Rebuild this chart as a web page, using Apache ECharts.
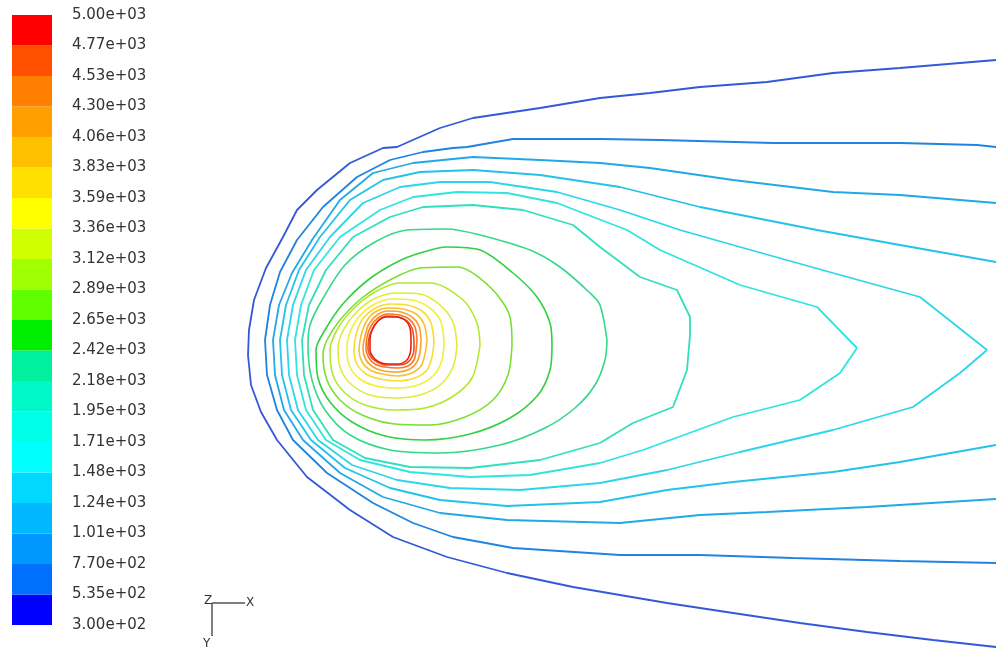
<!DOCTYPE html>
<html>
<head>
<meta charset="utf-8">
<script src="https://cdn.jsdelivr.net/npm/echarts@6/dist/echarts.min.js"></script>
<style>html,body{margin:0;padding:0;background:#fff;}#chart{width:996px;height:653px;}</style>
</head>
<body>
<div id="chart"></div>
<script>
// Colour-bar bands, bottom (lowest) to top (highest)
const bandColors = ['#0000ff','#0070ff','#0098ff','#00b8ff','#00d8ff','#00ffff','#00ffe8','#00f8c8','#00f0a0','#00ee00',
                    '#60ff00','#a0ff00','#d0ff00','#ffff00','#ffe000','#ffc000','#ffa000','#ff8000','#ff5000','#ff0000'];
// Colour-bar tick labels, bottom to top
const tickLabels = ['3.00e+02','5.35e+02','7.70e+02','1.01e+03','1.24e+03','1.48e+03','1.71e+03','1.95e+03','2.18e+03','2.42e+03',
                    '2.65e+03','2.89e+03','3.12e+03','3.36e+03','3.59e+03','3.83e+03','4.06e+03','4.30e+03','4.53e+03','4.77e+03','5.00e+03'];
// Contour levels (outer to inner)
const contourLevels = [535,770,1010,1240,1480,1710,1950,2180,2420,2650,2890,3120,3360,3590,3830,4060,4300,4530,4770];

// Contour traces [x, y] in domain units
const cA = [[756,290],[660,282],[593,277],[527,268],[460,263],[410,257],[360,252],[300,242],[233,232],[200,222],[157,203],[143,202],[110,187],[77,160],[57,140],[43,113],[26,82],[14,50],[9,20],[8,-5],[11,-35],[21,-62],[37,-90],[67,-127],[110,-160],[153,-187],[207,-207],[267,-223],[333,-237],[380,-245],[427,-253],[493,-263],[560,-273],[627,-282],[693,-290],[756,-297]];
const cB = [[756,203],[737,205],[660,207],[533,207],[420,210],[360,211],[273,211],[227,203],[213,202],[183,198],[150,190],[117,173],[83,143],[57,110],[40,78],[30,45],[25,10],[27,-25],[37,-60],[53,-90],[87,-123],[133,-153],[173,-173],[213,-187],[273,-198],[380,-205],[460,-205],[553,-208],[660,-211],[756,-213]];
const cC = [[756,147],[660,155],[593,158],[493,170],[410,182],[360,187],[300,190],[233,193],[173,187],[133,177],[100,150],[72,110],[52,77],[39,45],[33,10],[35,-25],[44,-60],[63,-90],[100,-123],[143,-147],[200,-163],[267,-170],[380,-173],[460,-165],[527,-162],[627,-157],[756,-149]];
const cD = [[756,88],[660,105],[577,120],[460,143],[380,163],[300,175],[233,180],[180,178],[143,170],[110,150],[80,113],[59,80],[46,45],[40,10],[42,-25],[51,-60],[71,-90],[105,-118],[150,-138],[200,-150],[267,-156],[360,-152],[427,-140],[493,-132],[593,-122],[660,-112],[756,-95]];
const cE = [[747,0],[680,53],[593,77],[500,103],[440,120],[380,140],[317,158],[250,168],[200,168],[160,163],[123,147],[90,113],[66,80],[53,45],[47,10],[49,-25],[58,-60],[78,-90],[112,-115],[157,-130],[210,-138],[280,-140],[360,-133],[427,-120],[500,-102],[593,-80],[673,-57],[720,-23],[747,0]];
const cF = [[617,2],[577,43],[500,65],[420,100],[387,120],[317,147],[267,157],[217,158],[173,153],[140,140],[100,113],[74,80],[61,45],[55,10],[57,-25],[66,-60],[86,-90],[120,-110],[170,-122],[230,-127],[290,-125],[360,-113],[403,-100],[493,-67],[560,-50],[600,-23],[617,2]];
const cG = [[450,15],[450,33],[437,60],[400,73],[360,103],[333,125],[283,140],[233,145],[183,143],[150,133],[113,113],[86,80],[69,45],[62,10],[64,-25],[73,-60],[93,-90],[125,-108],[170,-117],[230,-118],[300,-110],[360,-93],[393,-73],[433,-57],[447,-20],[450,15]];
const cH = [[367,10],[360,45],[350,57],[320,83],[290,100],[240,115],[207,121],[167,120],[135,108],[105,85],[82,50],[70,25],[68,5],[72,-30],[85,-60],[110,-85],[150,-100],[200,-103],[260,-95],[305,-78],[335,-58],[355,-35],[365,-10],[367,10]];
const cI = [[312,5],[310,27],[297,53],[273,77],[240,100],[207,103],[180,97],[157,88],[128,70],[102,45],[85,20],[76,0],[78,-28],[90,-52],[112,-72],[145,-86],[185,-90],[230,-84],[270,-68],[298,-45],[310,-20],[312,5]];
const cJ = [[272,5],[270,33],[250,63],[217,83],[180,82],[150,70],[122,52],[100,30],[87,10],[83,-5],[87,-30],[100,-50],[122,-65],[155,-74],[190,-75],[225,-67],[253,-50],[268,-25],[272,5]];
const cK = [[240,5],[237,27],[223,50],[190,67],[160,67],[135,58],[112,40],[97,20],[90,0],[93,-25],[105,-43],[125,-55],[155,-60],[185,-58],[212,-47],[232,-28],[240,5]];
const cL = [[217,5],[213,28],[200,45],[180,56],[155,57],[132,50],[114,35],[102,17],[98,0],[101,-20],[112,-35],[130,-45],[155,-48],[180,-45],[200,-35],[213,-17],[217,5]];
const cM = [[204,7],[201,28],[190,42],[172,50],[152,51],[133,45],[118,32],[109,15],[107,0],[110,-17],[120,-29],[136,-36],[157,-38],[178,-35],[194,-25],[202,-10],[204,7]];
const cN = [[194,8],[191,27],[182,39],[167,45],[150,46],[134,41],[122,30],[116,15],[114,0],[117,-14],[126,-24],[140,-29],[158,-31],[175,-28],[187,-20],[192,-7],[194,8]];
const cO = [[187,10],[184,26],[176,36],[163,41],[149,42],[135,38],[126,28],[121,14],[119,0],[122,-12],[130,-20],[142,-24],[158,-26],[172,-23],[181,-16],[185,-4],[187,10]];
const cP = [[181,10],[179,24],[172,33],[161,38],[148,39],[137,35],[129,26],[125,14],[123,1],[126,-10],[133,-17],[144,-21],[158,-22],[170,-19],[177,-12],[180,-2],[181,10]];
const cQ = [[177,10],[175,23],[169,31],[159,35],[147,36],[138,32],[131,24],[127,13],[126,1],[129,-8],[135,-14],[145,-17],[158,-18],[168,-16],[174,-10],[176,-1],[177,10]];
const cR = [[174,10],[172,22],[167,29],[158,33],[147,34],[139,30],[133,22],[129,12],[128,1],[131,-7],[137,-12],[146,-15],[158,-15],[167,-13],[172,-7],[174,1],[174,10]];
const cS = [[171,10],[170,22],[165,30],[157,33],[146,33],[138,29],[132,20],[130,10],[130,0],[133,-7],[139,-12],[148,-14],[158,-14],[166,-11],[170,-4],[171,5],[171,10]];

const contours = [cA,cB,cC,cD,cE,cF,cG,cH,cI,cJ,cK,cL,cM,cN,cO,cP,cQ,cR,cS];

// styles
const lineColors = ['#3358d8','#1f84e0','#22a8e6','#22c2ea','#2cd6ea','#30e4e0','#30e0bc','#34d88a','#30d040','#78e030',
                    '#b4e830','#e0ec34','#f4ee34','#f8dc30','#f8c030','#f8a030','#f87828','#f04c20','#e82010'];

const chart = echarts.init(document.getElementById('chart'), null, {renderer:'canvas'});

const series = [];
series.push({
  type:'bar', xAxisIndex:1, yAxisIndex:1, barCategoryGap:'0%', silent:true,
  data: bandColors.map(c => ({value:1, itemStyle:{color:c}}))
});
contours.forEach((pts, i) => {
  series.push({
    type:'line', xAxisIndex:0, yAxisIndex:0, data:pts, name: String(contourLevels[i]),
    showSymbol:false, symbol:'none', silent:true, clip:true,
    smooth: i >= 7 ? 0.3 : false,
    lineStyle:{color:lineColors[i], width: i < 7 ? 1.8 : 1.6}
  });
});

chart.setOption({
  animation:false,
  backgroundColor:'#ffffff',
  grid:[
    {left:240, right:0, top:30, bottom:0},
    {left:12, width:40, top:15, height:610}
  ],
  xAxis:[
    {gridIndex:0, type:'value', min:0, max:756, show:false},
    {gridIndex:1, type:'value', min:0, max:1, show:false}
  ],
  yAxis:[
    {gridIndex:0, type:'value', min:-303, max:320, show:false},
    {gridIndex:1, type:'category', data:bandColors.map((c,i)=>i), show:false},
    {gridIndex:1, type:'value', min:0, max:20, interval:1, position:'right',
     axisLine:{show:false}, axisTick:{show:false}, splitLine:{show:false},
     axisLabel:{margin:20, showMinLabel:true, showMaxLabel:true, color:'#333', fontSize:15, fontFamily:'DejaVu Sans',
                formatter:(v)=>tickLabels[Math.round(v)]}}
  ],
  series: series,
  graphic:[
    {type:'line', shape:{x1:212, y1:603, x2:245, y2:603}, style:{stroke:'#555', lineWidth:1.5}},
    {type:'line', shape:{x1:212, y1:603, x2:212, y2:636}, style:{stroke:'#555', lineWidth:1.5}},
    {type:'text', left:204, top:595, style:{text:'Z', fill:'#333', font:'12px DejaVu Sans'}},
    {type:'text', left:246, top:597, style:{text:'X', fill:'#333', font:'12px DejaVu Sans'}},
    {type:'text', left:203, top:638, style:{text:'Y', fill:'#333', font:'12px DejaVu Sans'}}
  ]
});
</script>
</body>
</html>
